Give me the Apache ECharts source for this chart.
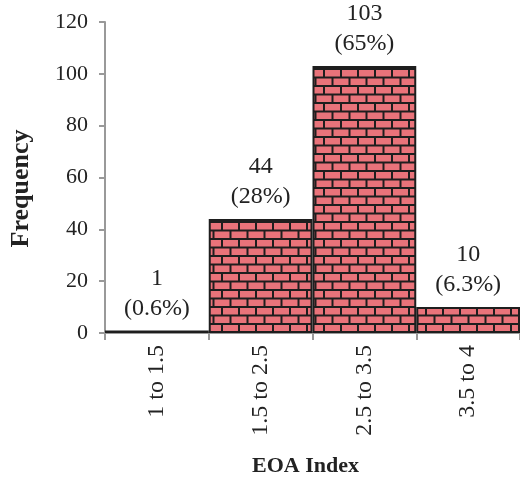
<!DOCTYPE html>
<html>
<head>
<meta charset="utf-8">
<script src="https://cdn.jsdelivr.net/npm/echarts@6/dist/echarts.min.js"></script>
<style>
  html, body { margin: 0; padding: 0; background: #fff; }
  #chart { width: 520px; height: 482px; }
</style>
</head>
<body>
<div id="chart"></div>
<script>
// EOA index histogram
const categories = ['1 to 1.5', '1.5 to 2.5', '2.5 to 3.5', '3.5 to 4'];
const frequencies = [1, 44, 103, 10];
const percentLabels = ['0.6%', '28%', '65%', '6.3%'];
const yTicks = { min: 0, max: 120, interval: 20 };

// Brick fill tile: two rows of bricks, second row offset by half a brick
function brickPattern() {
  const w = 34, h = 17, rowH = h / 2;
  const c = document.createElement('canvas');
  c.width = w; c.height = h;
  const g = c.getContext('2d');
  g.fillStyle = '#1e1e1e';
  g.fillRect(0, 0, w, h);
  g.fillStyle = '#e9737a';
  const m = 2; // mortar thickness
  // row 1
  g.fillRect(m, m, w / 2 - m, rowH - m);
  g.fillRect(w / 2 + m, m, w / 2 - m, rowH - m);
  // row 2 (offset)
  g.fillRect(0, rowH + m, w / 4, rowH - m);
  g.fillRect(w / 4 + m, rowH + m, w / 2 - m, rowH - m);
  g.fillRect(3 * w / 4 + m, rowH + m, w / 4 - m, rowH - m);
  return c;
}

const serif = '"Liberation Serif", "DejaVu Serif", serif';
const chart = echarts.init(document.getElementById('chart'));

chart.setOption({
  animation: false,
  grid: { left: 102, right: 0, top: 22, bottom: 146 },
  xAxis: {
    type: 'category',
    data: categories,
    name: 'EOA Index',
    nameLocation: 'middle',
    nameGap: 122,
    nameTextStyle: {
      fontFamily: serif, fontSize: 22, fontWeight: 'bold', color: '#222',
      padding: [0, 14, 0, 0]
    },
    axisLine: { lineStyle: { color: '#999', width: 2 } },
    axisTick: { show: true, length: 7, lineStyle: { color: '#999', width: 2 } },
    axisLabel: { rotate: 90, fontFamily: serif, fontSize: 24, color: '#222', margin: 12 }
  },
  yAxis: {
    type: 'value',
    min: yTicks.min,
    max: yTicks.max,
    interval: yTicks.interval,
    name: 'Frequency',
    nameLocation: 'middle',
    nameGap: 71,
    nameTextStyle: {
      fontFamily: serif, fontSize: 26, fontWeight: 'bold', color: '#222',
      padding: [0, 22, 0, 0]
    },
    splitLine: { show: false },
    axisLine: { show: true, lineStyle: { color: '#999', width: 2 } },
    axisTick: { show: true, length: 6, lineStyle: { color: '#999', width: 2 } },
    axisLabel: { fontFamily: serif, fontSize: 22, color: '#222', margin: 17 }
  },
  series: [{
    type: 'bar',
    data: frequencies,
    barCategoryGap: 0,
    itemStyle: {
      color: { image: brickPattern(), repeat: 'repeat' },
      borderColor: '#1e1e1e',
      borderWidth: 2
    },
    label: {
      show: true,
      position: 'top',
      distance: 7,
      fontFamily: serif,
      fontSize: 24,
      lineHeight: 30,
      color: '#222',
      formatter: p => p.value + '\n(' + percentLabels[p.dataIndex] + ')'
    }
  }]
});
</script>
</body>
</html>
